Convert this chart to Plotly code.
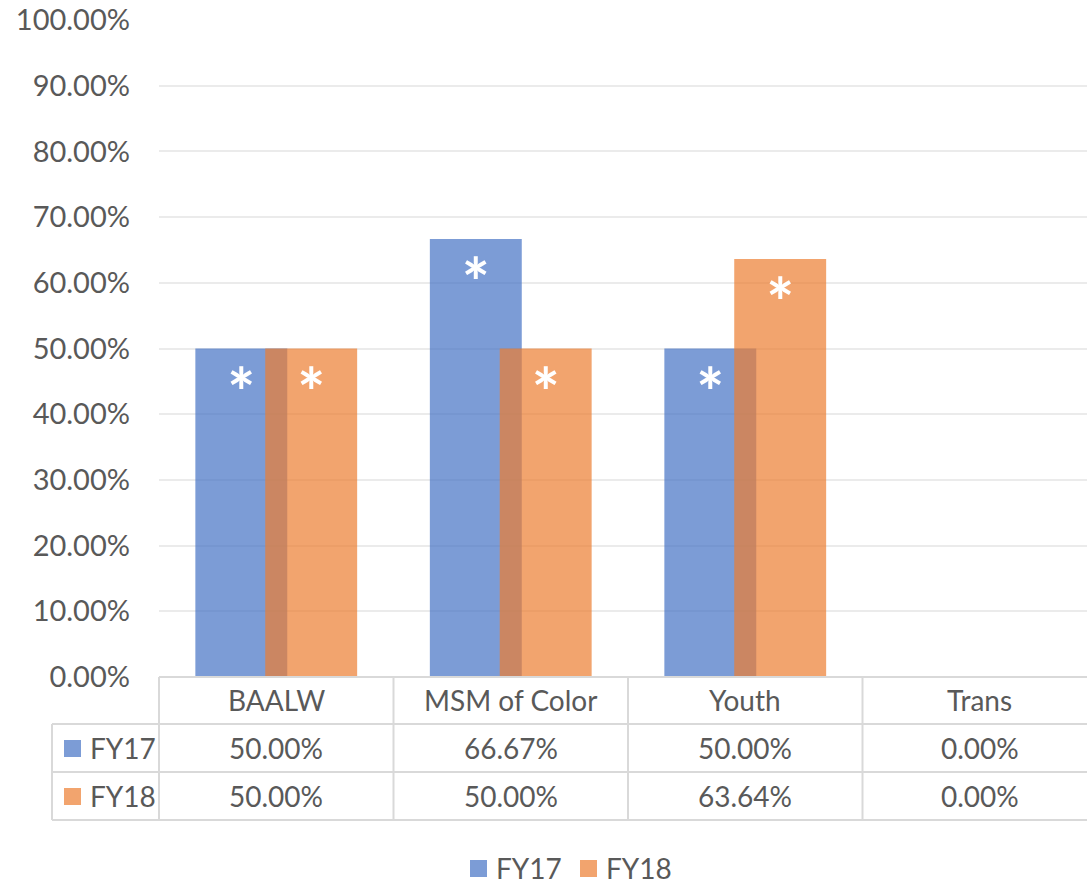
import plotly.graph_objects as go

# Chart data
categories = ["BAALW", "MSM of Color", "Youth", "Trans"]
fy17 = [0.50, 0.6667, 0.50, 0.0]
fy18 = [0.50, 0.50, 0.6364, 0.0]
fy17_marks = ["*", "*", "*", ""]
fy18_marks = ["*", "*", "*", ""]
y_ticks = [i / 10 for i in range(11)]

BLUE = "rgba(68,114,196,0.7)"
ORANGE = "rgba(237,125,49,0.7)"
TEXT = "#595959"
GRID = "#EBEBEB"
LINE = "#D9D9D9"
FONT = "Lato"

W, H = 1087, 884
L, R, T, B = 159, 0, 20, 207
plot_w = W - L - R
plot_h = H - T - B
col_px = 234.5                      # width of one category column
x_lo = -0.5
x_hi = x_lo + plot_w / col_px

bar_w = 0.392
x = list(range(len(categories)))

fig = go.Figure()
for name, vals, marks, color, off in [
    ("FY17", fy17, fy17_marks, BLUE, -0.345),
    ("FY18", fy18, fy18_marks, ORANGE, -0.047),
]:
    fig.add_trace(go.Bar(
        x=x, y=vals, name=name, width=bar_w, offset=off,
        marker=dict(color=color, line=dict(width=0)),
        text=marks, textposition="inside", insidetextanchor="end",
        textangle=0, constraintext="none",
        textfont=dict(family=FONT, size=66, color="white", weight="bold"),
        showlegend=False, hoverinfo="skip",
    ))


def py(p):
    """pixel row -> paper y"""
    return (H - B - p) / plot_h


def px(p):
    """pixel column -> paper x"""
    return (p - L) / plot_w


shapes = []
def hline(y, x0, x1):
    shapes.append(dict(type="line", xref="paper", yref="paper",
                       x0=px(x0), x1=px(x1), y0=py(y), y1=py(y),
                       line=dict(color=LINE, width=2)))


def vline(xp, y0, y1):
    shapes.append(dict(type="line", xref="paper", yref="paper",
                       x0=px(xp), x1=px(xp), y0=py(y0), y1=py(y1),
                       line=dict(color=LINE, width=2)))


# data table grid under the plot
row_top, row1, row2, row3 = 677, 724, 772, 820
left_col = 52
hline(row_top, L, W)
for r in (row1, row2, row3):
    hline(r, left_col, W)
vline(left_col, row1, row3)
vline(L, row_top, row3)
for k in range(1, len(categories)):
    vline(L + k * col_px, row_top, row3)

annotations = []
def label(xv, xref, yv, text, size=28, anchor="center"):
    annotations.append(dict(x=xv, y=yv, xref=xref, yref="paper", text=text,
                            showarrow=False, xanchor=anchor, yanchor="middle",
                            font=dict(family=FONT, size=size, color=TEXT)))


for i, c in enumerate(categories):
    label(i, "x", py(700), c)
    label(i, "x", py(748), f"{fy17[i]:.2%}")
    label(i, "x", py(796), f"{fy18[i]:.2%}")

# row headers with colour keys
for name, color, yc in [("FY17", BLUE, 748), ("FY18", ORANGE, 796)]:
    shapes.append(dict(type="rect", xref="paper", yref="paper",
                       x0=px(64), x1=px(81), y0=py(yc - 8), y1=py(yc + 9),
                       fillcolor=color, line=dict(width=0)))
    label(px(88), "paper", py(yc), name, anchor="left")

# bottom legend
for name, color, x0 in [("FY17", BLUE, 470), ("FY18", ORANGE, 580)]:
    shapes.append(dict(type="rect", xref="paper", yref="paper",
                       x0=px(x0), x1=px(x0 + 17), y0=py(860), y1=py(877),
                       fillcolor=color, line=dict(width=0)))
    label(px(x0 + 24), "paper", py(868), name, anchor="left")

fig.update_layout(
    width=W, height=H,
    margin=dict(l=L, r=R, t=T, b=B),
    paper_bgcolor="white", plot_bgcolor="white",
    barmode="overlay",
    font=dict(family=FONT, color=TEXT),
    xaxis=dict(range=[x_lo, x_hi], showticklabels=False, showgrid=False,
               zeroline=False, showline=False, ticks=""),
    yaxis=dict(range=[0, 1], tickvals=y_ticks, tickformat=".2%",
               showgrid=True, gridcolor=GRID, gridwidth=2,
               zeroline=False, showline=False, ticks="",
               ticklabelstandoff=28,
               tickfont=dict(family=FONT, size=29, color=TEXT)),
    shapes=shapes,
    annotations=annotations,
)

fig.write_html("out.html")
